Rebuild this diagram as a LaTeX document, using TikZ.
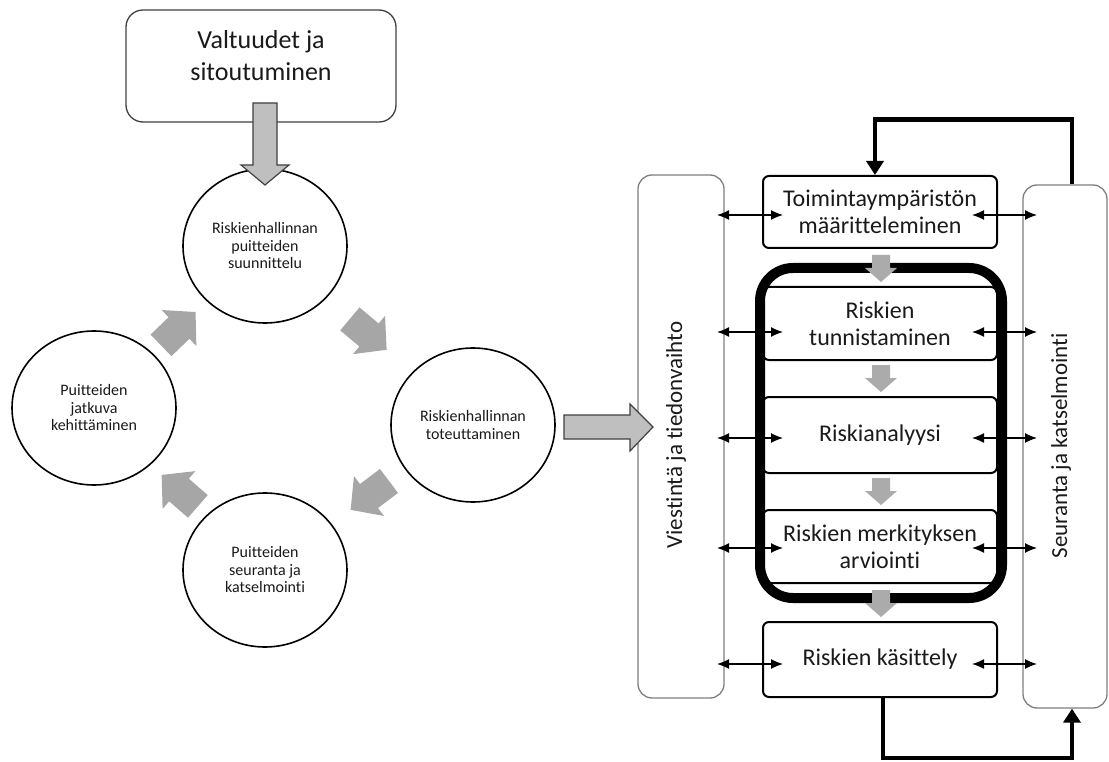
\documentclass[tikz,border=0pt]{standalone}
\usepackage{fontspec}
\setmainfont{Carlito}[Ligatures={NoCommon}]
\usetikzlibrary{shapes.geometric,arrows.meta}
\definecolor{txt}{HTML}{1A1A1A}
\definecolor{cycgray}{HTML}{A6A6A6}
\definecolor{smallgray}{HTML}{ABABAB}
\definecolor{blkfill}{HTML}{BFBFBF}
\definecolor{blkdraw}{HTML}{404040}
\definecolor{sidegray}{HTML}{7F7F7F}
\begin{document}
\begin{tikzpicture}[x=1pt,y=-1pt,
  every node/.style={text=txt},
  topbox/.style={draw=blkdraw, line width=1.3pt, rounded corners=17pt, minimum width=270pt, minimum height=112pt, inner sep=0pt},
  circ/.style={ellipse, draw=black, line width=1.6pt, fill=white, minimum width=164pt, minimum height=154pt, inner sep=0pt, align=center, font=\fontsize{16}{17.5}\selectfont},
  blk/.style={fill=blkfill, draw=blkdraw, line width=1.2pt, line join=miter},
  sidebox/.style={draw=sidegray, line width=1.3pt, rounded corners=14pt, fill=white, minimum height=523pt, inner sep=0pt},
  rbox/.style={draw=black, line width=2pt, rounded corners=6pt, fill=white, minimum width=234pt, align=center, inner sep=0pt, font=\fontsize{24}{27}\selectfont},
  dbl/.style={line width=1.3pt, {Latex[length=12pt,width=10pt]}-{Latex[length=12pt,width=10pt]}},
  loopline/.style={line width=4.5pt, -{Triangle[length=14pt,width=17pt]}},
  cycarrow/.pic={\fill[cycgray] (-25,-15) -- (0,-15) -- (0,-25) -- (23,0) -- (0,25) -- (0,15) -- (-25,15) -- cycle;},
  downarr/.pic={\fill[smallgray] (-9,0) -- (9,0) -- (9,13) -- (16,13) -- (0,27) -- (-16,13) -- (-9,13) -- cycle;}
]
\useasboundingbox (0,0) rectangle (1109,762);

% ---------- left part ----------
\node[topbox] (vbox) at (261,66) {};
\node[font=\fontsize{26}{32}\selectfont, align=center] (vtext) at (261,56) {Valtuudet ja\\sitoutuminen};

\node[circ] (c1) at (265,246) {Riskienhallinnan\\puitteiden\\suunnittelu};
\node[circ] (c2) at (473,425) {Riskienhallinnan\\toteuttaminen};
\node[circ] (c3) at (265,570) {Puitteiden\\seuranta ja\\katselmointi};
\node[circ] (c4) at (94,408) {Puitteiden\\jatkuva\\kehittäminen};

% block arrow from box to first circle
\draw[blk] (253,103) -- (277,103) -- (277,165) -- (289,165) -- (265,185) -- (241,165) -- (253,165) -- cycle;

% cycle arrows
\pic[rotate=44] at (179,328) {cycarrow};
\pic[rotate=-40] at (369,335) {cycarrow};
\pic[rotate=-143] at (369,496) {cycarrow};
\pic[rotate=139] at (179,490) {cycarrow};

% ---------- right part ----------
\node[sidebox, minimum width=86pt] (vb) at (681,436.5) {};
\node[sidebox, minimum width=84pt] (sk) at (1065,446.5) {};
\node[rotate=90, font=\fontsize{23}{27}\selectfont] (vbt) at (676,435) {Viestintä ja tiedonvaihto};
\node[rotate=90, font=\fontsize{23}{27}\selectfont] (skt) at (1061,446) {Seuranta ja katselmointi};

% block arrow into the process
\draw[blk] (564,415) -- (630,415) -- (630,404) -- (653,427) -- (630,451) -- (630,439) -- (564,439) -- cycle;

\node[rbox, minimum height=72pt] (ta) at (880,212) {Toimintaympäristön\\määritteleminen};
\node[rbox, minimum height=73pt] (tu) at (880,323.5) {Riskien\\tunnistaminen};
\node[rbox, minimum height=76pt] (an) at (880,435) {Riskianalyysi};
\node[rbox, minimum height=73pt] (me) at (880,546.5) {Riskien merkityksen\\arviointi};
\node[rbox, minimum height=75pt] (ka) at (880,659.5) {Riskien käsittely};

\node[draw=black, line width=10pt, rounded corners=33pt, minimum width=242pt, minimum height=330pt, inner sep=0pt] (frame) at (881,433) {};

\pic at (881,255) {downarr};
\pic at (881,365) {downarr};
\pic at (881,478) {downarr};
\pic at (881,590) {downarr};

\foreach \yy in {215,332,438,548,664}{
  \draw[dbl] (717,\yy) -- (783,\yy);
  \draw[dbl] (972,\yy) -- (1037,\yy);
}

\draw[loopline] ([xshift=7pt]sk.north) -- ++(0,-65) -| ([xshift=-5pt]ta.north);
\draw[loopline] ([xshift=3pt]ka.south) -- ++(0,60) -| ([xshift=7pt]sk.south);
\end{tikzpicture}
\end{document}
